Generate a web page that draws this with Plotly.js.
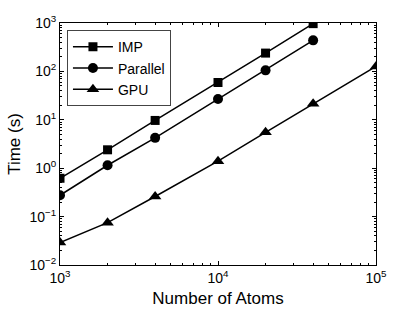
<!DOCTYPE html>
<html><head><meta charset="utf-8">
<script src="https://cdn.plot.ly/plotly-3.0.1.min.js"></script>
<style>html,body{margin:0;padding:0;background:#fff}#c{width:415px;height:312px}</style>
</head><body><div id="c"></div>
<script>
const atomsMain = [1000, 2000, 4000, 10000, 20000, 40000];
const atomsGPU = [1000, 2000, 4000, 10000, 20000, 40000, 100000];
const impTime = [0.62, 2.4, 9.7, 59, 239, 970];
const parallelTime = [0.276, 1.15, 4.24, 26.8, 105, 438];
const gpuTime = [0.029, 0.075, 0.26, 1.4, 5.5, 21.4, 127];
const xTickVals = [1000, 10000, 100000];
const xTickText = ['10<sup>3</sup>', '10<sup>4</sup>', '10<sup>5</sup>'];
const yTickVals = [0.01, 0.1, 1, 10, 100, 1000];
const yTickText = ['10<sup>−2</sup>', '10<sup>−1</sup>', '10<sup>0</sup>', '10<sup>1</sup>', '10<sup>2</sup>', '10<sup>3</sup>'];
const minorMult = [2, 3, 4, 5, 6, 7, 8, 9];

function minorVals(decades) {
  const out = [];
  decades.forEach(d => minorMult.forEach(m => out.push(m * d)));
  return out;
}

const FONT = 'Liberation Sans, Arial, Helvetica, sans-serif';
const line = {color: '#000', width: 1.5};
const traces = [
  {x: atomsMain, y: impTime, name: 'IMP', mode: 'lines+markers', line: line,
   marker: {symbol: 'square', size: 9, color: '#000'}},
  {x: atomsMain, y: parallelTime, name: 'Parallel', mode: 'lines+markers', line: line,
   marker: {symbol: 'circle', size: 10, color: '#000'}},
  {x: atomsGPU, y: gpuTime, name: 'GPU', mode: 'lines+markers', line: line,
   marker: {symbol: 'triangle-up', size: 11, color: '#000'}}
];
function axis(extra) {
  return Object.assign({
    type: 'log', showgrid: false, zeroline: false, showline: true, linecolor: '#000', linewidth: 1,
    mirror: 'allticks', ticks: 'inside', ticklen: 4, tickcolor: '#000', tickwidth: 1,
    tickfont: {family: FONT, size: 14, color: '#000'}
  }, extra);
}
const layout = {
  width: 415, height: 312,
  margin: {l: 60, r: 39, t: 23, b: 47},
  paper_bgcolor: '#fff', plot_bgcolor: '#fff',
  showlegend: true,
  legend: {x: 0.022, y: 0.97, xanchor: 'left', yanchor: 'top', bgcolor: '#fff',
    bordercolor: '#444', borderwidth: 1, tracegroupgap: 0, itemwidth: 40,
    font: {family: FONT, size: 14, color: '#000'}},
  xaxis: axis({
    range: [3, 5], tickvals: xTickVals, ticktext: xTickText,
    minor: {tickvals: minorVals([1000, 10000]), ticks: 'inside', ticklen: 2, tickcolor: '#000'},
    title: {text: 'Number of Atoms', standoff: 7, font: {family: FONT, size: 17, color: '#000'}}
  }),
  yaxis: axis({
    range: [-2, 3], tickvals: yTickVals, ticktext: yTickText,
    minor: {tickvals: minorVals([0.01, 0.1, 1, 10, 100]), ticks: 'inside', ticklen: 2, tickcolor: '#000'},
    title: {text: 'Time (s)', standoff: 4, font: {family: FONT, size: 17, color: '#000'}}
  })
};
Plotly.newPlot('c', traces, layout, {displayModeBar: false, staticPlot: true});
</script>
</body></html>
